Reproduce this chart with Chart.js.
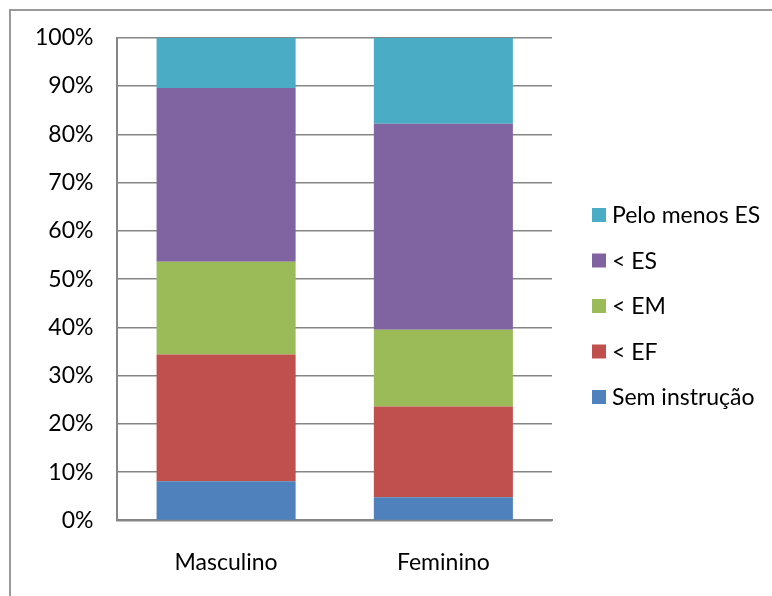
<!DOCTYPE html>
<html>
<head>
<meta charset="utf-8">
<script src="https://cdn.jsdelivr.net/npm/chart.js@4.4.1/dist/chart.umd.min.js"></script>
<style>
  html, body { margin: 0; padding: 0; background: #ffffff; }
  body { width: 772px; height: 596px; overflow: hidden; position: relative; }
  #frame {
    position: absolute; left: 9px; top: 9px; width: 900px; height: 700px;
    border-left: 2px solid #9a9a9a; border-top: 2px solid #9a9a9a;
  }
  #wrap { position: absolute; left: 0; top: 0; width: 772px; height: 596px; }
</style>
</head>
<body>
<div id="frame"></div>
<div id="wrap"><canvas id="chart" width="772" height="596"></canvas></div>
<script>
// Escolaridade por sexo (%)
const categories = ['Masculino', 'Feminino'];
const semInstrucao = [8.1, 4.8];
const menosEF = [26.3, 18.8];
const menosEM = [19.2, 15.9];
const menosES = [36.0, 42.7];
const peloMenosES = [10.4, 17.8];
const yTicks = [0, 10, 20, 30, 40, 50, 60, 70, 80, 90, 100];

const FONT = { family: 'Lato, "Open Sans", sans-serif', size: 23 };
const AXIS_GREY = '#868686';

const series = [
  { label: 'Sem instrução', data: semInstrucao, color: '#4F81BD' },
  { label: '< EF', data: menosEF, color: '#C0504D' },
  { label: '< EM', data: menosEM, color: '#9BBB59' },
  { label: '< ES', data: menosES, color: '#8064A2' },
  { label: 'Pelo menos ES', data: peloMenosES, color: '#4BACC6' }
];

// Side legend: square swatch + label, top entry = last dataset
const sideLegend = {
  id: 'sideLegend',
  afterDraw(chart, args, opts) {
    const ctx = chart.ctx;
    const items = chart.data.datasets.slice().reverse();
    const x = chart.chartArea.right + opts.offsetX;
    const startY = opts.centerY - (items.length - 1) * opts.rowGap / 2;
    ctx.save();
    ctx.font = opts.font.size + 'px ' + opts.font.family;
    ctx.textBaseline = 'middle';
    ctx.textAlign = 'left';
    items.forEach((ds, i) => {
      const cy = startY + i * opts.rowGap;
      ctx.fillStyle = ds.backgroundColor;
      ctx.fillRect(x, cy - opts.box / 2, opts.box, opts.box);
      ctx.fillStyle = '#000000';
      ctx.fillText(ds.label, x + opts.box + opts.gap, cy + 1);
    });
    ctx.restore();
  }
};

new Chart(document.getElementById('chart'), {
  type: 'bar',
  data: {
    labels: categories,
    datasets: series.map(s => ({
      label: s.label,
      data: s.data,
      backgroundColor: s.color,
      borderWidth: 0,
      categoryPercentage: 1.0,
      barPercentage: 0.64
    }))
  },
  options: {
    responsive: false,
    animation: false,
    layout: { padding: { left: 11, right: 220, top: 27, bottom: -8 } },
    plugins: {
      tooltip: { enabled: false },
      legend: { display: false },
      sideLegend: { offsetX: 40, centerY: 306, rowGap: 45.5, box: 14, gap: 6, font: FONT }
    },
    scales: {
      x: {
        stacked: true,
        grid: { display: false, drawTicks: false },
        border: { display: true, color: AXIS_GREY, width: 2 },
        ticks: { font: FONT, color: '#000000', padding: 28 }
      },
      y: {
        stacked: true,
        min: 0,
        max: 100,
        afterBuildTicks: scale => { scale.ticks = yTicks.map(v => ({ value: v })); },
        grid: { color: AXIS_GREY, lineWidth: 1.5, drawTicks: false },
        border: { display: true, color: AXIS_GREY, width: 2 },
        ticks: {
          font: FONT,
          color: '#000000',
          padding: 24,
          callback: v => v + '%'
        }
      }
    }
  },
  plugins: [sideLegend]
});
</script>
</body>
</html>
